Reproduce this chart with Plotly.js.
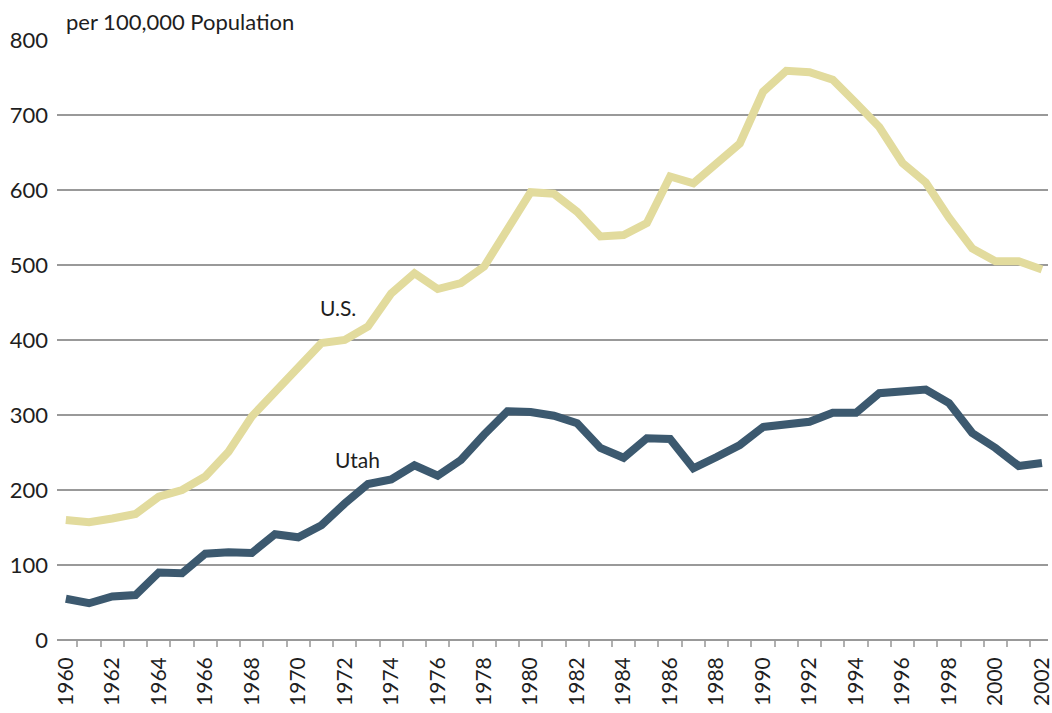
<!DOCTYPE html>
<html>
<head>
<meta charset="utf-8">
<script src="https://cdn.plot.ly/plotly-3.0.1.min.js"></script>
<style>html,body{margin:0;padding:0;background:#fff;}#chart{width:1052px;height:713px;}</style>
</head>
<body>
<div id="chart"></div>
<script>
const years = [1960,1961,1962,1963,1964,1965,1966,1967,1968,1969,1970,1971,1972,1973,1974,1975,1976,1977,1978,1979,1980,1981,1982,1983,1984,1985,1986,1987,1988,1989,1990,1991,1992,1993,1994,1995,1996,1997,1998,1999,2000,2001,2002];
const usValues = [160,157,162,168,191,200,218,251,298,330,364,396,400,418,462,489,468,476,498,547,597,595,571,538,540,556,618,609,636,662,731,759,757,747,716,684,636,610,563,522,505,505,494];
const utahValues = [55,49,58,60,90,89,115,117,116,141,137,153,182,208,214,233,219,240,274,305,304,299,289,256,243,269,268,229,244,260,284,288,291,303,303,329,331,334,316,276,256,232,236];
const xTickYears = [1960,1962,1964,1966,1968,1970,1972,1974,1976,1978,1980,1982,1984,1986,1988,1990,1992,1994,1996,1998,2000,2002];
const yTicks = [0,100,200,300,400,500,600,700,800];
const seriesNames = ["U.S.", "Utah"];
const unitLabel = "per 100,000 Population";

const font = "Lato, 'Open Sans', sans-serif";
const textColor = "#1e1e1e";
const gridColor = "#999999";

const traces = [
  {x: years, y: usValues, name: seriesNames[0], type: "scatter", mode: "lines",
   line: {color: "#e2db9d", width: 8}},
  {x: years, y: utahValues, name: seriesNames[1], type: "scatter", mode: "lines",
   line: {color: "#3c596f", width: 8}}
];

const layout = {
  width: 1052, height: 713,
  margin: {l: 57, r: 4, t: 40, b: 73},
  paper_bgcolor: "#fff", plot_bgcolor: "#fff",
  showlegend: false,
  font: {family: font, color: textColor, size: 20},
  xaxis: {
    range: [1959.62, 2002.26],
    tickmode: "array", tickvals: xTickYears, ticktext: xTickYears.map(String),
    tickangle: -90, ticks: "", showgrid: false, zeroline: false,
    showline: false, ticklabelstandoff: 12, ticklabeloverflow: "allow",
    tickfont: {size: 21, family: font, color: textColor},
    minor: {tick0: 1959.5, dtick: 1, ticks: "outside", ticklen: 6, tickwidth: 2, tickcolor: "#b0b0b0", showgrid: false}
  },
  yaxis: {
    range: [0, 800], tickmode: "array", tickvals: yTicks,
    ticks: "", showgrid: true, gridcolor: gridColor, gridwidth: 2,
    zeroline: true, zerolinecolor: gridColor, zerolinewidth: 2,
    showline: false, ticklabelstandoff: 8,
    tickfont: {size: 22, family: font, color: textColor}
  },
  annotations: [
    {xref: "paper", yref: "paper", x: 0, y: 1, xanchor: "left", yanchor: "bottom",
     xshift: 7, yshift: 3, text: unitLabel, showarrow: false,
     font: {size: 22, family: font, color: textColor}},
    {x: 1971.7, y: 443, text: seriesNames[0], showarrow: false,
     font: {size: 21, family: font, color: textColor}},
    {x: 1972.55, y: 241, text: seriesNames[1], showarrow: false,
     font: {size: 21, family: font, color: textColor}}
  ]
};

Plotly.newPlot("chart", traces, layout, {displayModeBar: false, staticPlot: true});
</script>
</body>
</html>
